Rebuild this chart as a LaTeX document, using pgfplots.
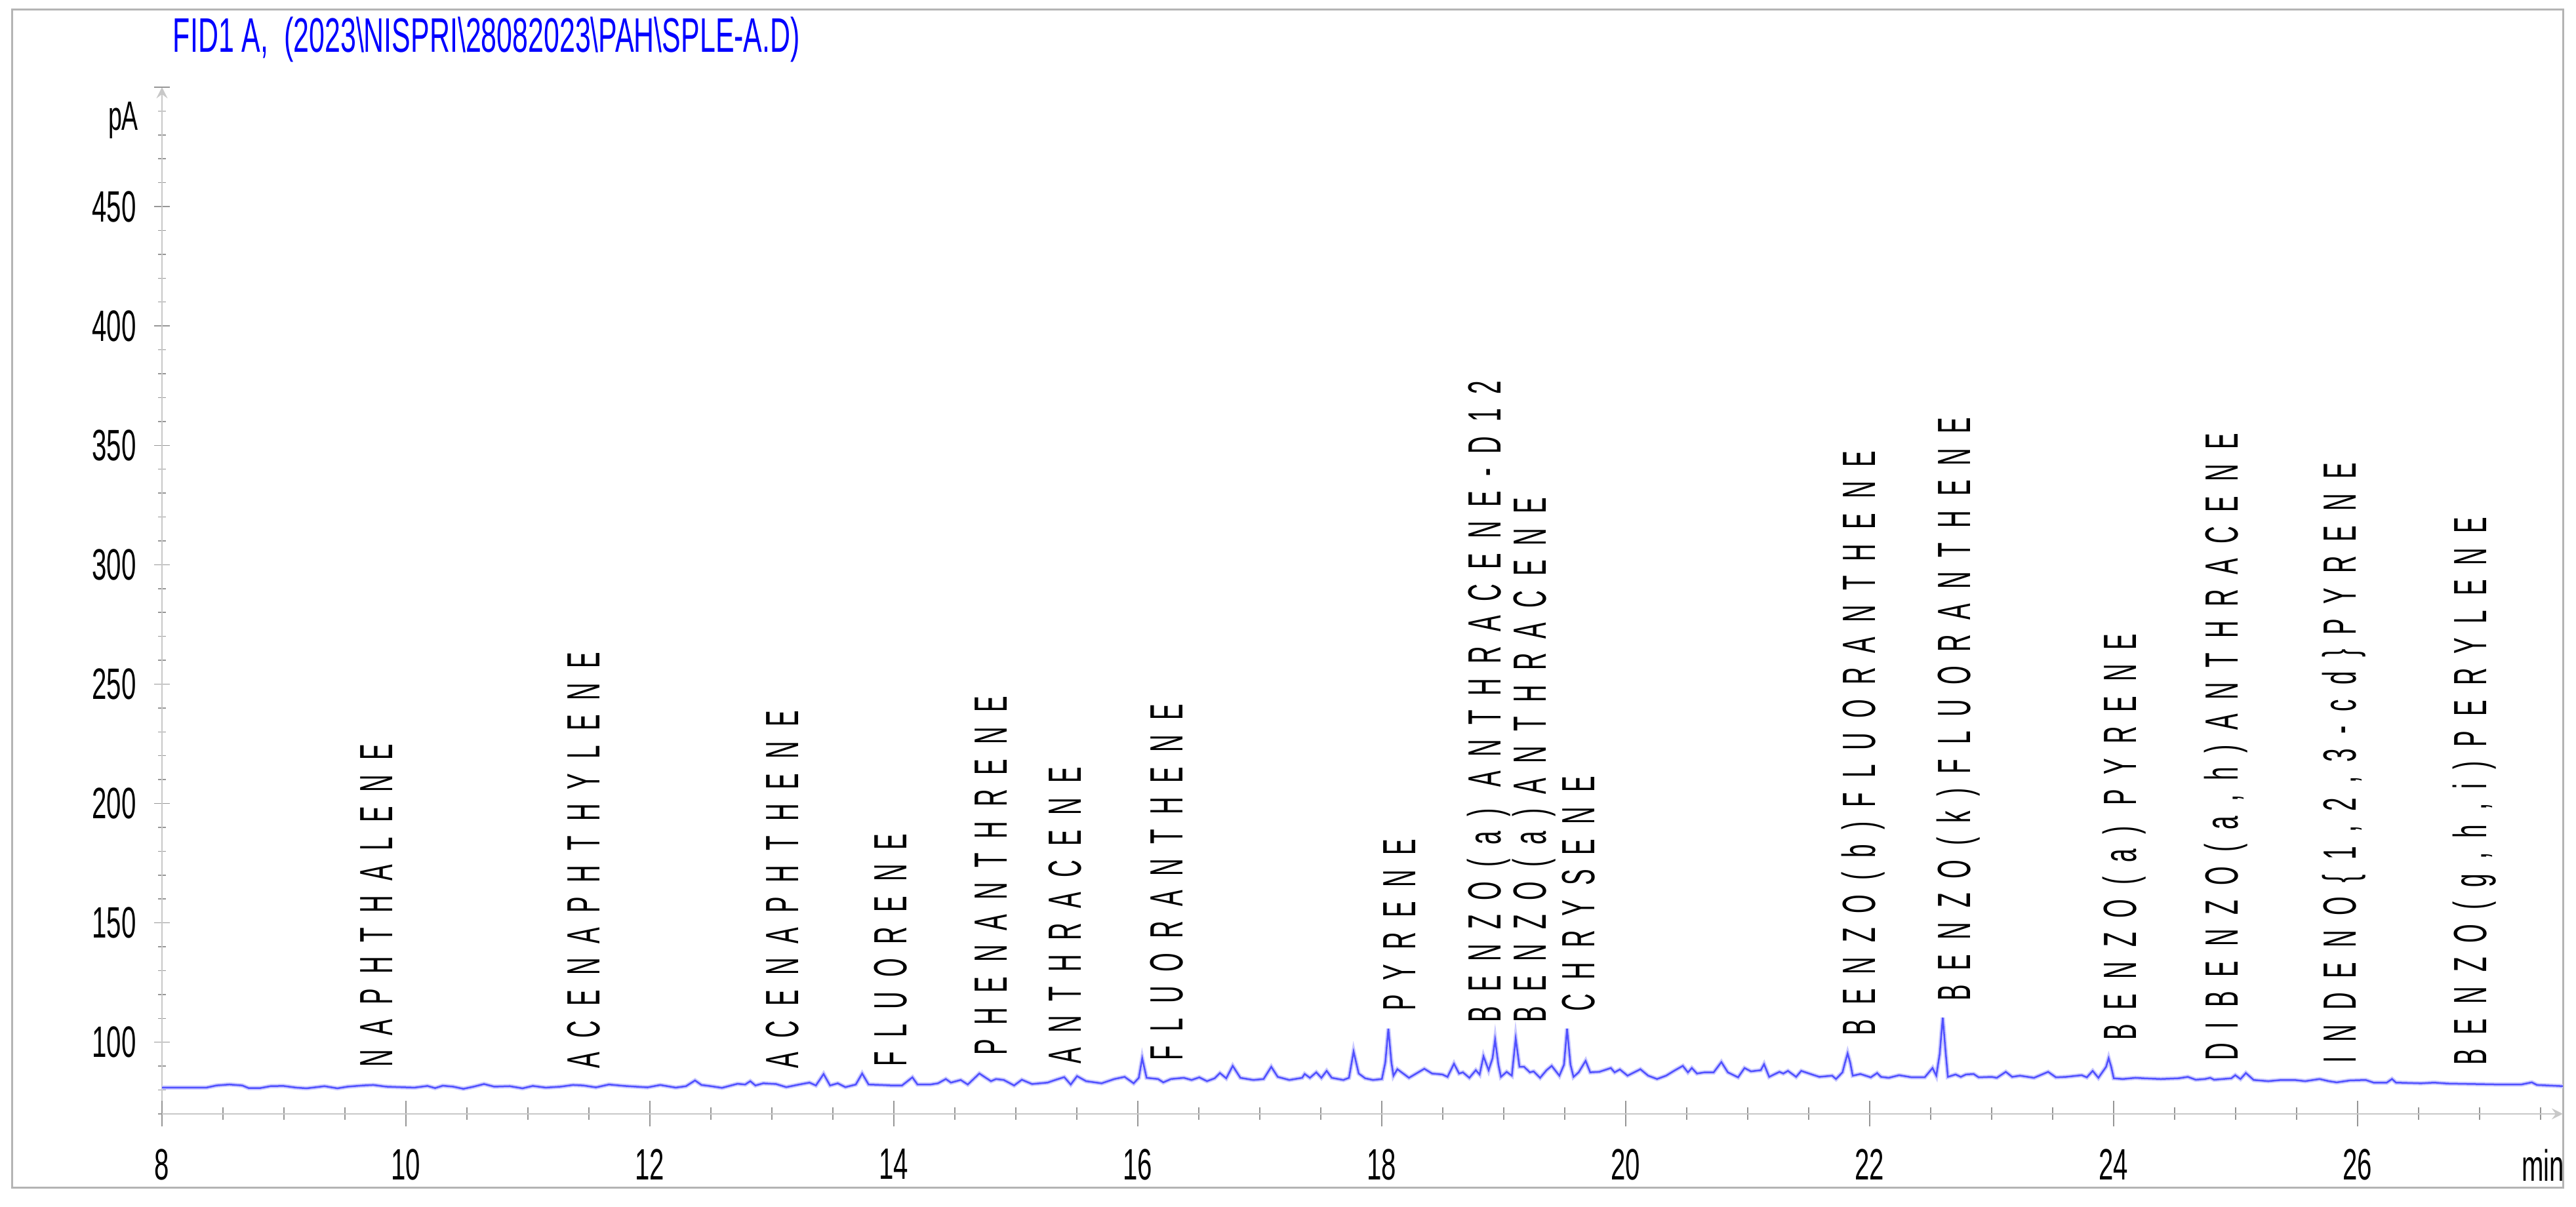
\documentclass[border=0pt]{standalone}
\usepackage{pgfplots}
\usepackage{pgfplotstable}
\pgfplotsset{compat=1.18}
\usepackage{fontspec}
\setmainfont{Liberation Sans}
\newfontfamily\tickfont[FakeStretch=0.6]{Liberation Sans}
\newfontfamily\titlefont[FakeStretch=0.58]{Liberation Sans}
\newfontfamily\lblfont[FakeStretch=0.52,LetterSpace=31]{Liberation Sans}
\definecolor{trace}{RGB}{80,80,255}
\definecolor{framec}{RGB}{180,180,180}
\definecolor{axl}{RGB}{200,200,200}
\definecolor{tk}{RGB}{150,150,150}

\pgfplotstableread{
x y
8.000 81.0
8.363 81.0
8.447 81.9
8.552 82.3
8.658 81.9
8.711 80.8
8.805 80.8
8.890 81.6
8.995 81.7
9.100 81.0
9.185 80.7
9.269 81.2
9.332 81.6
9.438 80.7
9.522 81.4
9.649 81.9
9.733 82.1
9.838 81.4
9.944 81.2
10.070 81.0
10.176 81.7
10.239 80.8
10.302 81.8
10.387 81.4
10.471 80.5
10.555 81.4
10.640 82.5
10.724 81.4
10.850 81.6
10.956 80.7
11.040 81.7
11.146 81.0
11.268 81.4
11.369 82.1
11.453 81.9
11.558 81.1
11.664 82.3
11.790 81.7
11.980 81.1
12.085 82.1
12.212 81.0
12.296 81.6
12.370 84.0
12.423 82.1
12.486 81.7
12.591 80.9
12.718 82.6
12.781 82.3
12.823 83.7
12.865 81.9
12.929 82.8
13.034 82.5
13.118 81.2
13.224 82.3
13.308 83.1
13.361 81.9
13.424 86.7
13.477 81.9
13.540 82.8
13.603 81.2
13.688 82.3
13.740 86.9
13.793 82.3
13.899 82.1
13.983 81.9
14.067 81.9
14.152 85.3
14.194 82.3
14.299 82.3
14.362 82.8
14.426 84.6
14.468 83.1
14.548 84.2
14.606 82.3
14.701 86.9
14.796 83.7
14.838 84.6
14.901 84.2
14.986 81.9
15.049 84.3
15.133 82.5
15.260 83.1
15.323 84.2
15.397 85.4
15.450 82.3
15.502 85.8
15.576 83.7
15.703 82.8
15.808 84.6
15.892 85.5
15.966 82.8
16.008 85.1
16.036 93.3
16.072 85.1
16.166 84.6
16.209 83.2
16.272 84.6
16.377 85.1
16.441 84.2
16.504 85.3
16.567 83.7
16.630 84.9
16.673 87.1
16.725 84.9
16.778 90.1
16.841 85.1
16.947 84.2
17.031 84.6
17.094 89.7
17.147 85.5
17.242 84.2
17.347 85.1
17.368 86.7
17.411 85.1
17.463 87.4
17.505 85.1
17.548 88.0
17.590 85.1
17.685 84.2
17.731 85.1
17.769 96.1
17.811 86.9
17.864 84.9
17.928 84.2
18.001 84.6
18.029 91.5
18.054 105.7
18.079 91.5
18.096 86.0
18.128 88.7
18.223 85.1
18.349 88.9
18.412 86.9
18.497 86.5
18.539 85.5
18.592 91.0
18.634 86.9
18.665 87.4
18.718 85.1
18.771 88.3
18.802 86.5
18.834 94.1
18.876 88.3
18.908 93.3
18.929 101.1
18.956 90.6
18.977 85.5
19.024 87.6
19.066 86.0
19.098 101.6
19.129 89.7
19.167 89.7
19.214 87.4
19.245 87.8
19.298 85.1
19.351 88.3
19.393 90.1
19.456 86.0
19.494 90.6
19.519 105.7
19.547 90.6
19.572 85.5
19.614 87.4
19.671 92.2
19.709 87.4
19.783 87.6
19.878 89.2
19.909 87.4
19.952 88.6
20.015 86.0
20.120 88.7
20.184 86.0
20.257 84.6
20.331 86.0
20.405 88.3
20.468 90.1
20.510 87.4
20.542 89.2
20.584 86.9
20.647 87.4
20.721 87.4
20.784 91.7
20.837 87.4
20.921 85.3
20.974 89.2
21.027 87.8
21.107 88.3
21.134 90.8
21.176 85.5
21.260 87.6
21.292 86.9
21.330 88.0
21.397 85.5
21.439 88.0
21.503 86.9
21.587 85.5
21.692 86.0
21.724 84.6
21.777 87.4
21.798 91.5
21.819 95.3
21.840 91.5
21.861 86.0
21.924 86.7
22.009 85.3
22.061 87.1
22.093 85.5
22.156 85.1
22.241 86.2
22.346 85.3
22.451 85.3
22.515 89.2
22.546 86.0
22.574 95.1
22.599 110.3
22.624 95.1
22.641 85.5
22.704 86.5
22.747 85.5
22.789 86.5
22.852 86.7
22.894 85.3
23.000 85.5
23.042 85.1
23.116 87.6
23.168 85.5
23.232 86.0
23.347 85.1
23.463 87.6
23.527 85.3
23.611 85.5
23.738 86.2
23.780 85.3
23.828 88.0
23.875 85.1
23.938 89.7
23.959 93.3
23.980 89.7
24.001 84.9
24.075 84.6
24.180 85.1
24.244 84.9
24.387 84.6
24.533 84.9
24.608 85.5
24.673 84.3
24.749 84.6
24.792 85.1
24.824 84.3
24.965 84.9
24.997 86.2
25.040 84.6
25.084 87.1
25.148 84.2
25.267 83.7
25.375 84.2
25.483 84.2
25.570 83.7
25.688 84.6
25.764 83.7
25.829 83.2
25.937 84.0
26.066 84.2
26.131 83.1
26.239 83.1
26.282 84.6
26.315 83.1
26.520 82.8
26.628 83.1
26.736 82.7
26.952 82.5
27.168 82.3
27.341 82.3
27.428 83.2
27.471 82.1
27.557 81.9
27.683 81.6
}\fid

\newcommand{\lbl}[3]{\node[rotate=90,anchor=base west,inner sep=0pt,font=\lblfont\fontsize{14.2}{14.2}\selectfont] at (axis cs:#1,#2) {#3};}

\pgfplotsset{common/.style={
  at={(49.4pt,28.4pt)}, anchor=south west,
  scale only axis, width=732.2pt, height=313.2pt,
  xmin=8, xmax=27.683, ymin=70, ymax=500,
  clip=false,
  axis line style={-, draw=axl, line width=0.5pt},
  tick align=outside,
  tick style={tk, line width=0.3pt},
}}

\begin{document}
\begin{tikzpicture}[x=1pt,y=1pt]
\path[use as bounding box] (0,0) rectangle (785.6,368.2);
\draw[framec, line width=0.6pt] (3.6,5.8) rectangle (781.6,365.2);
% y axis (its own tick lengths)
\begin{axis}[common,
  axis x line=none, axis y line=left,
  xtick=\empty,
  major tick length=4.6pt, minor tick length=2.4pt,
  ytick={100,150,...,450}, yticklabels={100,150,200,250,300,350,400,450},
  extra y ticks={500}, extra y tick labels={},
  minor ytick={70,80,...,490},
  yticklabel style={anchor=east, inner sep=0pt, xshift=-5.4pt, font=\tickfont\fontsize{13.4}{13.4}\selectfont},
]
\end{axis}
% x axis and data
\begin{axis}[common,
  axis x line=bottom, axis y line=none,
  ytick=\empty,
  major tick length=7.8pt, minor tick length=3.8pt,
  xtick={8,10,...,26}, xticklabels={8,10,12,14,16,18,20,22,24,26},
  minor xtick={8.5,9,...,27.5},
  xticklabel style={anchor=north, inner sep=0pt, yshift=-6.6pt, font=\tickfont\fontsize{13.4}{13.4}\selectfont},
]
\addplot[trace!30, line width=1.3pt, no marks] table[x=x,y=y] {\fid};
\addplot[trace, line width=0.5pt, no marks] table[x=x,y=y] {\fid};
\lbl{9.892}{89.3}{NAPHTHALENE}
\lbl{11.591}{88.7}{ACENAPHTHYLENE}
\lbl{13.217}{88.7}{ACENAPHTHENE}
\lbl{14.107}{89.6}{FLUORENE}
\lbl{14.927}{94.2}{PHENANTHRENE}
\lbl{15.537}{90.7}{ANTHRACENE}
\lbl{16.367}{92.0}{FLUORANTHENE}
\lbl{18.277}{112.9}{PYRENE}
\lbl{18.977}{108.0}{BENZO(a) ANTHRACENE-D12}
\lbl{19.347}{108.0}{BENZO(a)ANTHRACENE}
\lbl{19.747}{112.6}{CHRYSENE}
\lbl{22.047}{102.5}{BENZO(b)FLUORANTHENE}
\lbl{22.827}{117.0}{BENZO(k)FLUORANTHENE}
\lbl{24.187}{100.5}{BENZO(a) PYRENE}
\lbl{25.017}{92.0}{DIBENZO(a,h)ANTHRACENE}
\lbl{25.987}{90.9}{INDENO\{1,2,3-cd\}PYRENE}
\lbl{27.057}{90.1}{BENZO(g,h,i)PERYLENE}
\end{axis}
\node[anchor=base west, inner sep=0pt, text=blue, font=\titlefont\fontsize{14.8}{14.8}\selectfont] at (52.6,352.2) {FID1 A,\ \ (2023\textbackslash NISPRI\textbackslash 28082023\textbackslash PAH\textbackslash SPLE-A.D)};
\node[anchor=base east, inner sep=0pt, font=\tickfont\fontsize{12.5}{12.5}\selectfont] at (42.4,328.4) {pA};
\node[anchor=base east, inner sep=0pt, font=\tickfont\fontsize{13.4}{13.4}\selectfont] at (782.2,7.8) {min};
\end{tikzpicture}
\end{document}
